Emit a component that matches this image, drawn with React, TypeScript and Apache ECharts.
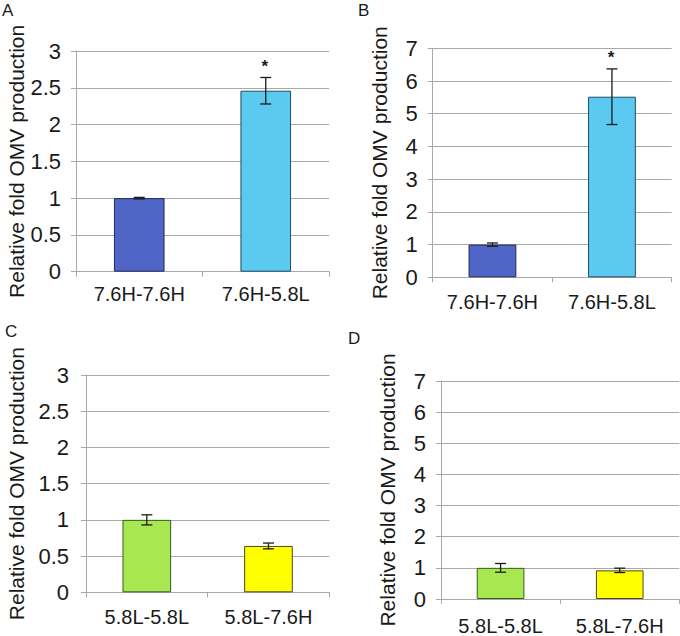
import React, { useEffect, useRef } from "react";
import * as echarts from "echarts";

const categoriesAB = ["7.6H-7.6H", "7.6H-5.8L"];
const categoriesCD = ["5.8L-5.8L", "5.8L-7.6H"];

const valuesA = [1.0, 2.46];
const errorsA = [0.01, 0.18];
const sigA = [false, true];

const valuesB = [1.0, 5.52];
const errorsB = [0.05, 0.85];
const sigB = [false, true];

const valuesC = [1.0, 0.64];
const errorsC = [0.07, 0.04];
const sigC = [false, false];

const valuesD = [1.0, 0.92];
const errorsD = [0.14, 0.07];
const sigD = [false, false];

const colorsAB = ["#5066c7", "#5ccaf0"];
const bordersAB = ["#1f2a5e", "#1d4f63"];
const colorsCD = ["#a7e851", "#ffff00"];
const bordersCD = ["#3b5a1c", "#4a4a20"];

const yTitle = "Relative fold OMV production";
const FONT = "'Liberation Sans', Arial, sans-serif";
const GRAY = "#a8a8a8";
const TEXT = "#1a1a1a";

type Panel = {
  grid: { left: number; top: number; width: number; height: number };
  cats: string[];
  vals: number[];
  errs: number[];
  sig: boolean[];
  colors: string[];
  borders: string[];
  max: number;
  interval: number;
  labelMargin: number;
  xLabelMargin: number;
  nameGap: number;
};

const panels: Panel[] = [
  {
    grid: { left: 76, top: 51, width: 253, height: 220.7 },
    cats: categoriesAB, vals: valuesA, errs: errorsA, sig: sigA,
    colors: colorsAB, borders: bordersAB, max: 3, interval: 0.5,
    labelMargin: 15, xLabelMargin: 12, nameGap: 48,
  },
  {
    grid: { left: 432.7, top: 48.3, width: 239, height: 229 },
    cats: categoriesAB, vals: valuesB, errs: errorsB, sig: sigB,
    colors: colorsAB, borders: bordersAB, max: 7, interval: 1,
    labelMargin: 15, xLabelMargin: 15, nameGap: 43,
  },
  {
    grid: { left: 86, top: 375, width: 243.3, height: 217.3 },
    cats: categoriesCD, vals: valuesC, errs: errorsC, sig: sigC,
    colors: colorsCD, borders: bordersCD, max: 3, interval: 0.5,
    labelMargin: 17, xLabelMargin: 15, nameGap: 59,
  },
  {
    grid: { left: 441, top: 381, width: 238.3, height: 222.3 },
    cats: categoriesCD, vals: valuesD, errs: errorsD, sig: sigD,
    colors: colorsCD, borders: bordersCD, max: 7, interval: 1,
    labelMargin: 15, xLabelMargin: 17, nameGap: 43,
  },
];

const letters = [
  { t: "A", x: 2, y: 2 },
  { t: "B", x: 358, y: 2 },
  { t: "C", x: 5, y: 323 },
  { t: "D", x: 348, y: 330 },
];

export default function App() {
  const ref = useRef<HTMLDivElement>(null);

  useEffect(() => {
    if (!ref.current) return;
    const chart = echarts.init(ref.current, undefined, { renderer: "svg" });

    const grid = panels.map((p) => ({ ...p.grid, containLabel: false }));
    const xAxis = panels.map((p, i) => ({
      type: "category",
      gridIndex: i,
      data: p.cats,
      axisLine: { show: true, lineStyle: { color: GRAY, width: 1 } },
      axisTick: { show: true, length: 5, lineStyle: { color: GRAY } },
      axisLabel: { fontSize: 20, color: TEXT, fontFamily: FONT, margin: p.xLabelMargin },
      splitLine: { show: false },
    }));
    const yAxis = panels.map((p, i) => ({
      type: "value",
      gridIndex: i,
      min: 0,
      max: p.max,
      interval: p.interval,
      name: yTitle,
      nameLocation: "middle",
      nameGap: p.nameGap,
      nameRotate: 90,
      nameTextStyle: { fontSize: 21, color: TEXT, fontFamily: FONT },
      axisLine: { show: true, lineStyle: { color: GRAY, width: 1 } },
      axisTick: { show: true, length: 5, lineStyle: { color: GRAY } },
      axisLabel: { fontSize: 22, color: TEXT, fontFamily: FONT, margin: p.labelMargin },
      splitLine: { show: true, lineStyle: { color: GRAY, width: 1 } },
    }));

    const series: any[] = [];
    panels.forEach((p, i) => {
      series.push({
        type: "bar",
        xAxisIndex: i,
        yAxisIndex: i,
        barWidth: "40%",
        data: p.vals.map((v, k) => ({
          value: v,
          itemStyle: { color: p.colors[k], borderColor: p.borders[k], borderWidth: 1 },
        })),
      });
      series.push({
        type: "custom",
        xAxisIndex: i,
        yAxisIndex: i,
        z: 10,
        data: p.vals.map((v, k) => [k, v, p.errs[k], p.sig[k] ? 1 : 0]),
        renderItem: (params: any, api: any) => {
          const idx = api.value(0);
          const v = api.value(1);
          const e = api.value(2);
          const s = api.value(3);
          const top = api.coord([idx, v + e]);
          const bot = api.coord([idx, v - e]);
          const hw = 5.5;
          const st = { stroke: "#1a1a1a", lineWidth: 1.3 };
          const children: any[] = [
            { type: "line", shape: { x1: top[0], y1: top[1], x2: bot[0], y2: bot[1] }, style: st },
            { type: "line", shape: { x1: top[0] - hw, y1: top[1], x2: top[0] + hw, y2: top[1] }, style: st },
            { type: "line", shape: { x1: bot[0] - hw, y1: bot[1], x2: bot[0] + hw, y2: bot[1] }, style: st },
          ];
          if (s) {
            children.push({
              type: "text",
              x: top[0] - 1,
              y: top[1] - 11,
              style: {
                text: "*",
                fill: "#1a1a1a",
                font: `bold 17px ${FONT}`,
                textAlign: "center",
                textVerticalAlign: "middle",
              },
            });
          }
          return { type: "group", children };
        },
      });
    });

    chart.setOption({
      animation: false,
      backgroundColor: "#ffffff",
      grid,
      xAxis,
      yAxis,
      series,
      graphic: letters.map((l) => ({
        type: "text",
        left: l.x,
        top: l.y,
        style: { text: l.t, fontSize: 17, fill: TEXT, fontFamily: FONT },
      })),
    } as any);

    return () => chart.dispose();
  }, []);

  return (
    <div
      ref={ref}
      style={{ position: "absolute", left: 0, top: 0, width: 680, height: 636, background: "#fff" }}
    />
  );
}
